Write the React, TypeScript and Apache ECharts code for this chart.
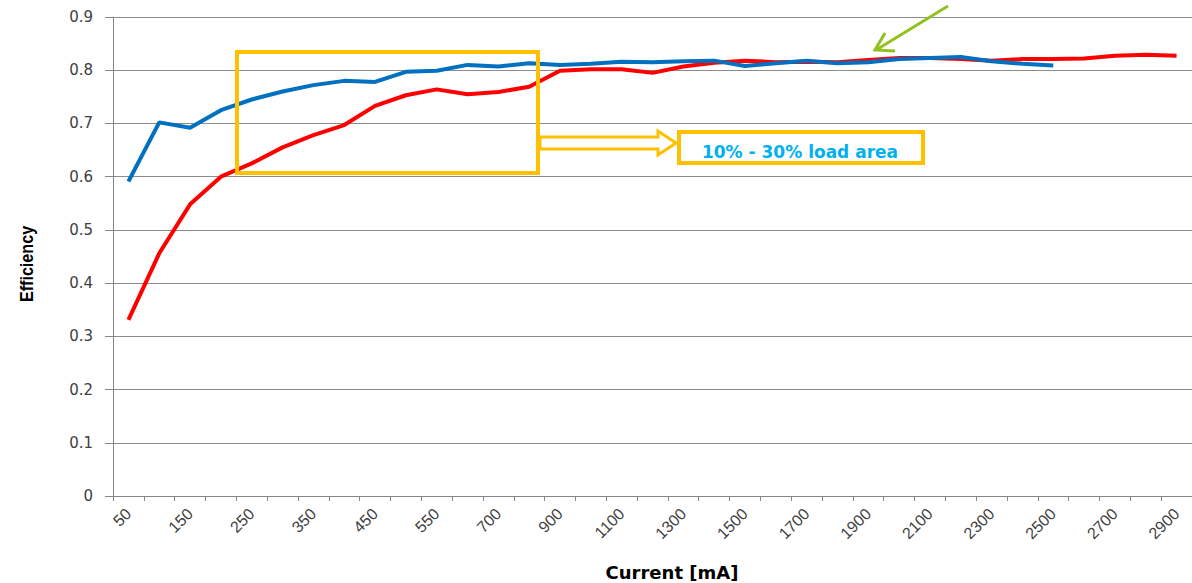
import React, { useEffect, useRef } from "react";
import * as echarts from "echarts";

const categories = [
  "50", "100", "150", "200", "250", "300", "350", "400", "450", "500", "550", "600",
  "700", "800", "900", "1000", "1100", "1200", "1300", "1400", "1500", "1600", "1700",
  "1800", "1900", "2000", "2100", "2200", "2300", "2400", "2500", "2600", "2700", "2800", "2900",
];

const redSeries = [
  0.331, 0.456, 0.548, 0.600, 0.625, 0.655, 0.678, 0.697, 0.733, 0.753, 0.764, 0.755,
  0.759, 0.769, 0.799, 0.802, 0.802, 0.795, 0.807, 0.814, 0.818, 0.815, 0.816, 0.815,
  0.819, 0.823, 0.823, 0.821, 0.818, 0.821, 0.821, 0.822, 0.827, 0.829, 0.827,
];

const blueSeries = [
  0.591, 0.702, 0.692, 0.725, 0.745, 0.760, 0.772, 0.780, 0.778, 0.797, 0.799, 0.810,
  0.807, 0.813, 0.810, 0.812, 0.816, 0.815, 0.817, 0.818, 0.808, 0.813, 0.818, 0.813,
  0.815, 0.821, 0.823, 0.825, 0.817, 0.812, 0.809,
];

const yTicks = [0, 0.1, 0.2, 0.3, 0.4, 0.5, 0.6, 0.7, 0.8, 0.9];

const ORANGE = "#FFC000";

export default function App() {
  const ref = useRef<HTMLDivElement>(null);

  useEffect(() => {
    if (!ref.current) return;
    const chart = echarts.init(ref.current, undefined, { renderer: "svg" });
    chart.setOption({
      animation: false,
      backgroundColor: "#ffffff",
      grid: { left: 113, right: -11, top: 17, bottom: 87, containLabel: false },
      xAxis: {
        type: "category",
        data: categories,
        boundaryGap: true,
        axisLine: { show: true, lineStyle: { color: "#868686", width: 1 } },
        axisTick: { show: true, interval: 0, alignWithLabel: false, length: 5, lineStyle: { color: "#868686" } },
        axisLabel: {
          interval: 1,
          rotate: 45,
          margin: 15,
          color: "#404040",
          fontFamily: "Liberation Sans",
          fontSize: 16,
        },
        splitLine: { show: false },
      },
      yAxis: {
        type: "value",
        min: yTicks[0],
        max: yTicks[yTicks.length - 1],
        interval: 0.1,
        axisLine: { show: true, lineStyle: { color: "#868686", width: 1 } },
        axisTick: { show: true, length: 8, lineStyle: { color: "#868686" } },
        axisLabel: {
          margin: 20,
          color: "#404040",
          fontFamily: "DejaVu Sans",
          fontSize: 15,
          formatter: (v: number) => (Math.round(v * 10) / 10).toString(),
        },
        splitLine: { show: true, lineStyle: { color: "#8C8C8C", width: 1 } },
      },
      series: [
        {
          type: "line",
          data: redSeries,
          symbol: "none",
          lineStyle: { color: "#FF0000", width: 4 },
          itemStyle: { color: "#FF0000" },
          z: 2,
        },
        {
          type: "line",
          data: blueSeries,
          symbol: "none",
          lineStyle: { color: "#0070C0", width: 4 },
          itemStyle: { color: "#0070C0" },
          z: 3,
        },
      ],
      graphic: [
        {
          type: "text",
          x: 27,
          y: 264,
          rotation: Math.PI / 2,
          scaleX: 0.85,
          z: 100,
          style: {
            text: "Efficiency",
            fontFamily: "Liberation Sans",
            fontWeight: "bold",
            fontSize: 19,
            fill: "#000000",
            align: "center",
            verticalAlign: "middle",
          },
        },
        {
          type: "text",
          x: 672,
          y: 572,
          z: 100,
          style: {
            text: "Current [mA]",
            fontFamily: "DejaVu Sans",
            fontWeight: "bold",
            fontSize: 18,
            fill: "#000000",
            align: "center",
            verticalAlign: "middle",
          },
        },
        {
          type: "rect",
          z: 100,
          shape: { x: 237, y: 52, width: 301, height: 121 },
          style: { fill: "none", stroke: ORANGE, lineWidth: 4 },
        },
        {
          type: "polygon",
          z: 100,
          shape: {
            points: [
              [540, 137], [658, 137], [658, 131], [676, 143], [658, 155], [658, 149], [540, 149],
            ],
          },
          style: { fill: "#ffffff", stroke: ORANGE, lineWidth: 3 },
        },
        {
          type: "rect",
          z: 100,
          shape: { x: 679, y: 132, width: 244, height: 31 },
          style: { fill: "#ffffff", stroke: ORANGE, lineWidth: 4 },
        },
        {
          type: "text",
          x: 800,
          y: 152,
          z: 101,
          style: {
            text: "10% - 30% load area",
            fontFamily: "DejaVu Sans",
            fontWeight: "bold",
            fontSize: 17,
            fill: "#00B0F0",
            align: "center",
            verticalAlign: "middle",
          },
        },
        {
          type: "line",
          z: 100,
          shape: { x1: 948, y1: 6, x2: 876, y2: 50 },
          style: { stroke: "#92C020", lineWidth: 3 },
        },
        {
          type: "polyline",
          z: 100,
          shape: { points: [[885, 33], [875, 50], [895, 51]] },
          style: { stroke: "#92C020", lineWidth: 3, fill: "none" },
        },
      ],
    });
    return () => chart.dispose();
  }, []);

  return (
    <div
      ref={ref}
      style={{ position: "fixed", left: 0, top: 0, width: 1192, height: 583, background: "#fff" }}
    />
  );
}
